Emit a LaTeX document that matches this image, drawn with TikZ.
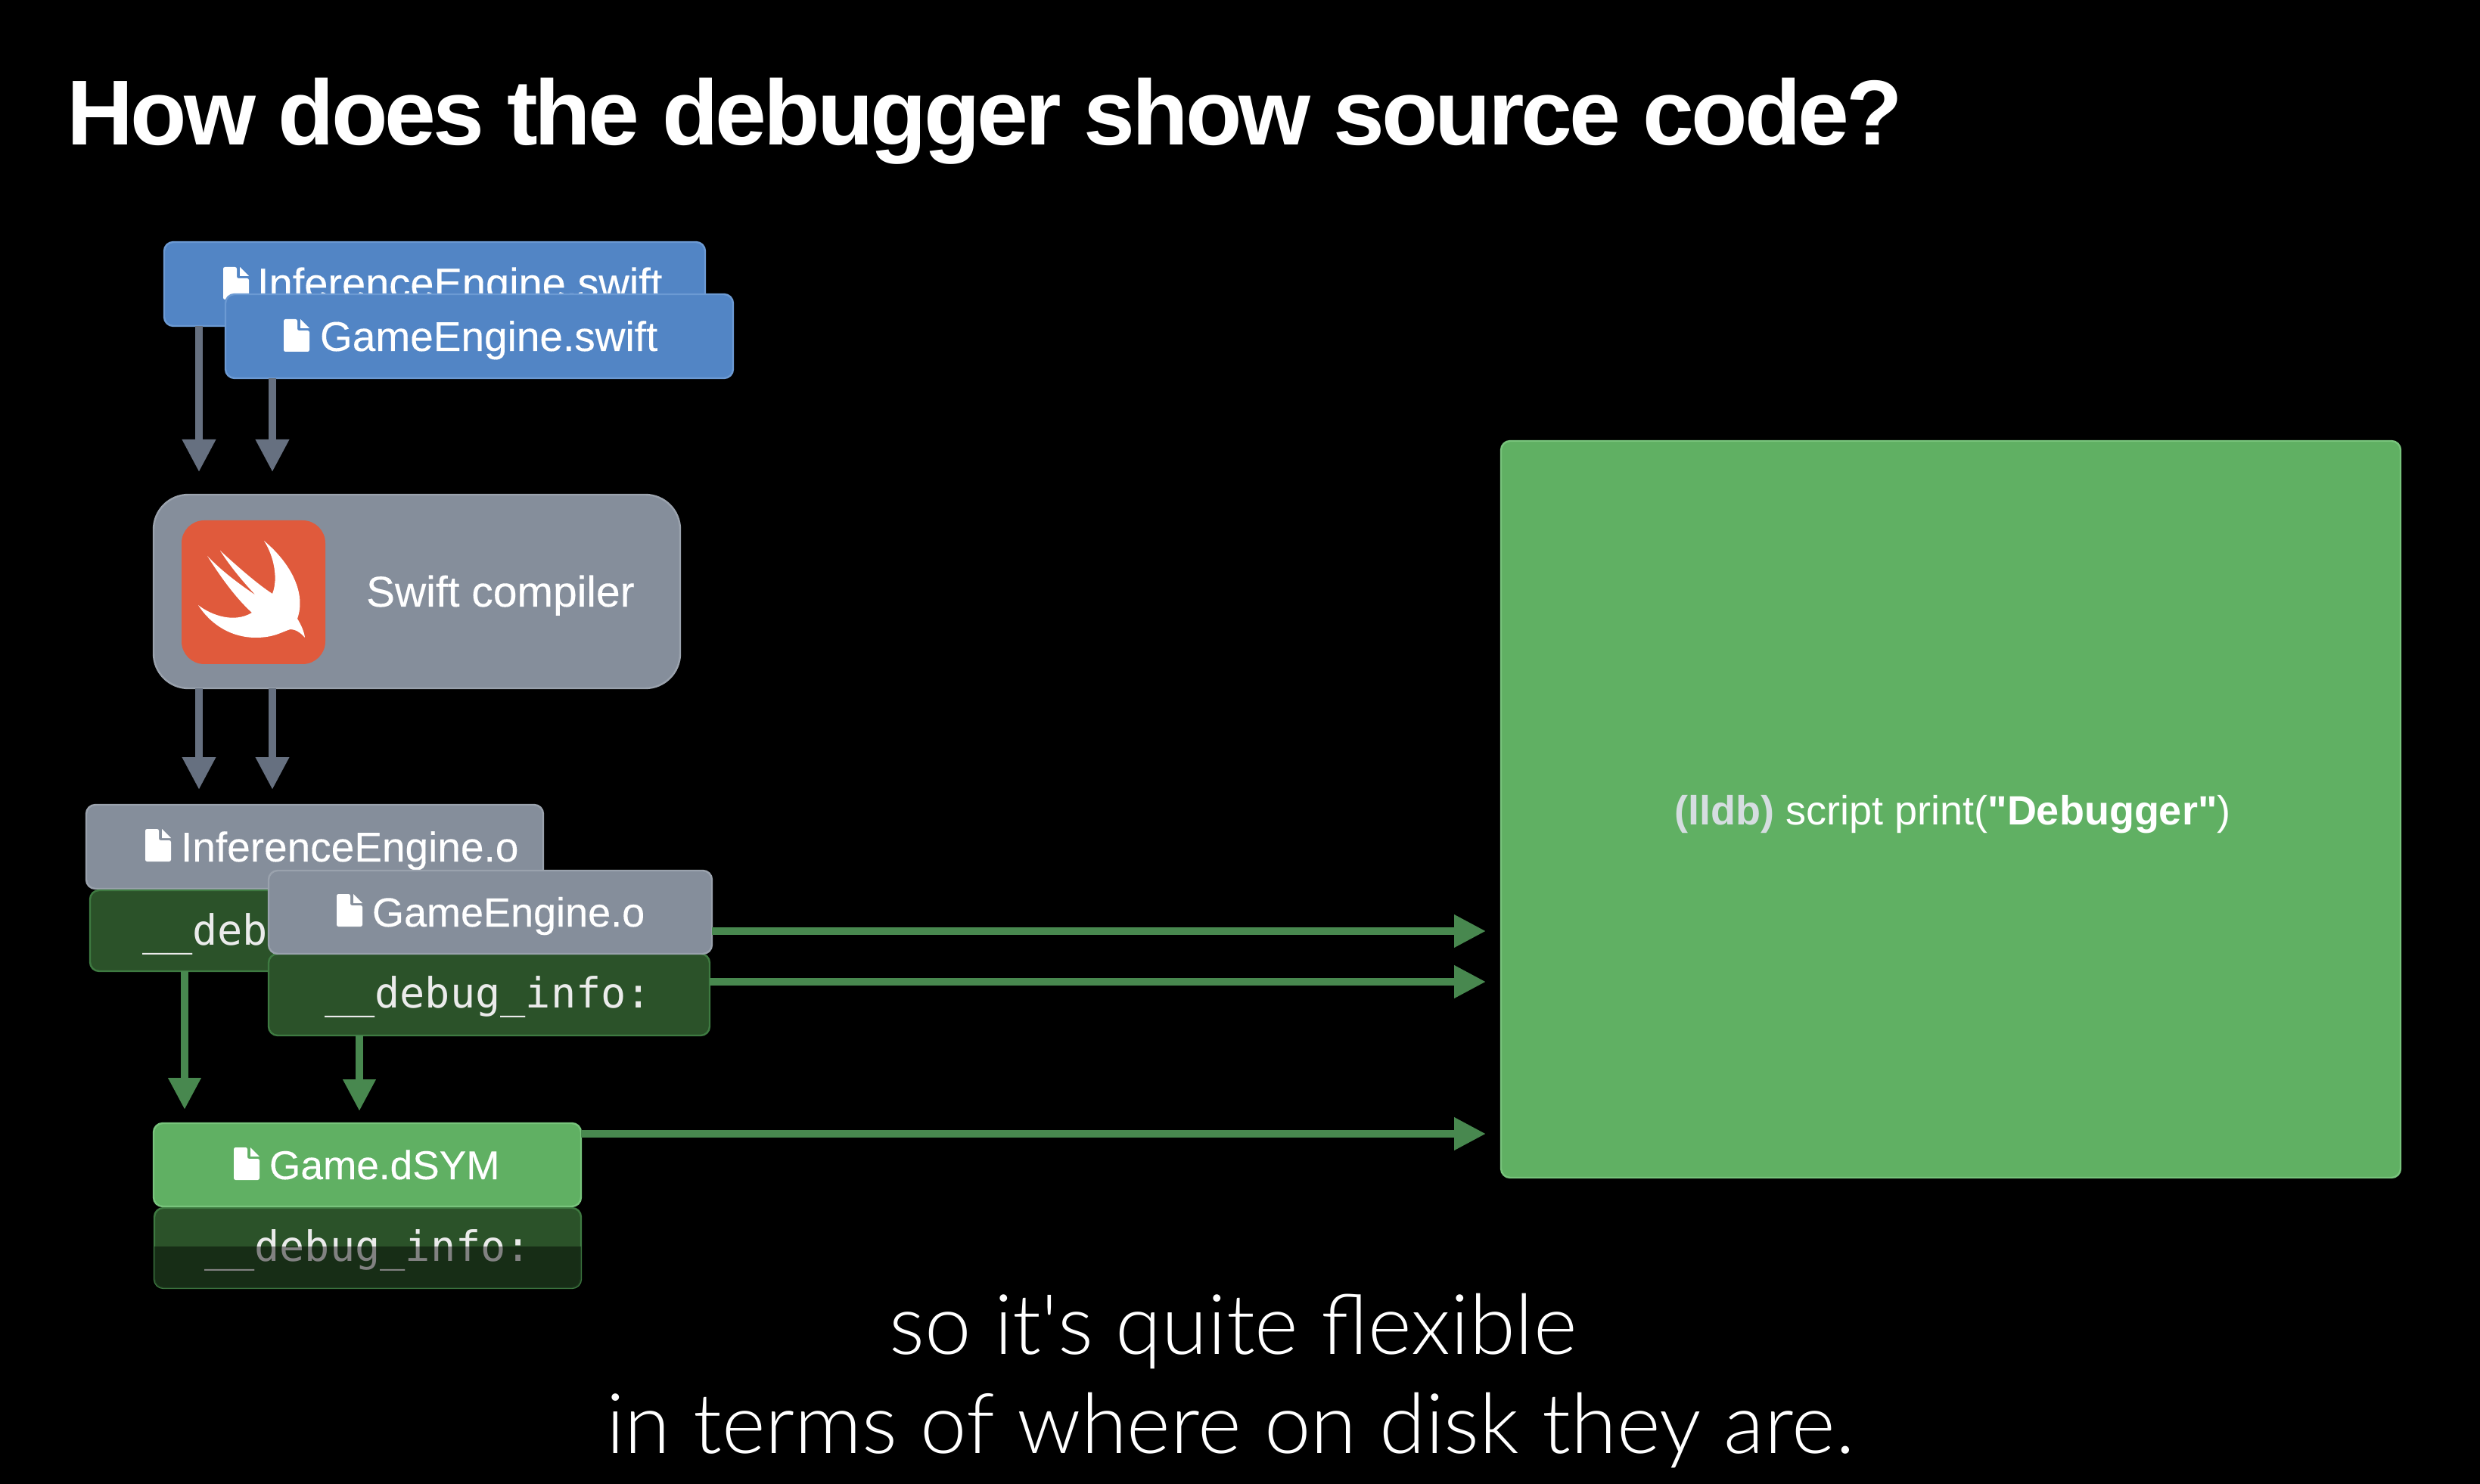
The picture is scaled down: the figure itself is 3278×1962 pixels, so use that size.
\documentclass[tikz,border=0pt]{standalone}
\usepackage{fontspec}
\usetikzlibrary{arrows.meta}
\setmainfont[Ligatures=TeXOff]{Liberation Sans}
\newfontfamily\titlefont[LetterSpace=-3.3]{Liberation Sans Bold}
\newfontfamily\labelfont[FakeBold=0.18]{Liberation Sans}
\newfontfamily\capfont[Ligatures=TeXOff]{Lato Light}
\newfontfamily\monof{DejaVu Sans Mono}
\newdimen\u \u=0.5pt
\definecolor{cblue}{HTML}{5285C5}
\definecolor{cblueb}{HTML}{6C9AD3}
\definecolor{cgray}{HTML}{858E9B}
\definecolor{cgrayb}{HTML}{9AA2AD}
\definecolor{corange}{HTML}{E05A3C}
\definecolor{cgreen}{HTML}{60B063}
\definecolor{cgreenb}{HTML}{78C47C}
\definecolor{cdark}{HTML}{2B5229}
\definecolor{cdarkb}{HTML}{3E7A41}
\definecolor{cagray}{HTML}{667080}
\definecolor{cagreen}{HTML}{48884F}
\definecolor{clldb}{HTML}{D5DDE0}
\tikzset{
  x=0.5pt,y=-0.5pt,
  boxbase/.style={rounded corners=6pt,inner sep=0pt,outer sep=0pt,line width=1.2pt},
  bluebox/.style={boxbase,fill=cblue,draw=cblueb},
  graybox/.style={boxbase,fill=cgray,draw=cgrayb},
  compbox/.style={graybox,rounded corners=23pt},
  greenbox/.style={boxbase,fill=cgreen,draw=cgreenb},
  darkbox/.style={boxbase,fill=cdark,draw=cdarkb},
  label/.style={anchor=base west,inner sep=0pt,outer sep=0pt,text=white,font=\labelfont\fontsize{27.5}{30}\selectfont},
  monolabel/.style={anchor=base west,inner sep=0pt,outer sep=0pt,text=white!92!black,font=\monof\fontsize{27.6}{30}\selectfont},
  caption/.style={anchor=base,inner sep=0pt,text=white,font=\capfont\fontsize{55.2}{60}\selectfont},
  grayarrow/.style={draw=cagray,line width=5pt,-{Triangle[length=21.5pt,width=21pt]}},
  greenarrow/.style={draw=cagreen,line width=5pt,-{Triangle[length=21pt,width=20.5pt]}},
  fileicon/.pic={
    \fill[white,rounded corners=1.2pt] (0,0) -- (18,0) -- (18,15) -- (34,15) -- (34,43) -- (0,43) -- cycle;
    \fill[white] (22,0) -- (34,12) -- (22,12) -- cycle;
  }
}
\newcommand{\boxat}[6]{\node[#2,anchor=north west,minimum width={(#5-#3)*\u},minimum height={(#6-#4)*\u}] (#1) at (#3,#4) {};}
\begin{document}
\begin{tikzpicture}
\useasboundingbox[fill=black] (0,0) rectangle (3278,1962);
% title
\node[anchor=base west,inner sep=0pt,text=white,font=\titlefont\fontsize{61}{66}\selectfont] (title) at (88,192) {How does the debugger show source code?};
% free ends
\coordinate (t1) at (263,624);
\coordinate (t2) at (360,624);
\coordinate (t3) at (263,1044);
\coordinate (t4) at (360,1044);
\coordinate (t5) at (244,1467);
\coordinate (t6) at (475,1469);
\coordinate (t7) at (1964,1231);
\coordinate (t8) at (1964,1298);
\coordinate (t9) at (1964,1499);
% swift sources
\boxat{infs}{bluebox}{217}{320}{932}{431}
\pic at (295,353) {fileicon};
\node[label,font=\labelfont\fontsize{28}{30}\selectfont] (infstxt) at (340,394) {InferenceEngine.swift};
\boxat{games}{bluebox}{298}{389}{969}{500}
\pic at (375,422) {fileicon};
\node[label] (gamestxt) at (423,464) {GameEngine.swift};
% compiler
\boxat{comp}{compbox}{203}{654}{899}{910}
\fill[corange,rounded corners=15pt] (240,688) rectangle (430,878);
\fill[white] (349,715) .. controls (385,745) and (405,785) .. (393,818)
  .. controls (398,826) and (402,835) .. (403,843)
  .. controls (397,836) and (390,832) .. (384,832)
  .. controls (373,835) and (363,843) .. (338,843)
  .. controls (308,843) and (280,828) .. (262,800)
  .. controls (280,814) and (310,824) .. (333,810)
  .. controls (313,792) and (293,765) .. (274,735)
  .. controls (293,755) and (316,772) .. (338,787)
  .. controls (322,770) and (305,750) .. (291,728)
  .. controls (315,750) and (340,772) .. (360,785)
  .. controls (368,765) and (362,735) .. (349,715) -- cycle;
\node[label,font=\labelfont\fontsize{28.5}{31}\selectfont] (comptxt) at (484,802) {Swift compiler};
% arrows top
\draw[grayarrow] (infs.south -| t1) -- (t1);
\draw[grayarrow] (games.south -| t2) -- (t2);
\draw[grayarrow] (comp.south -| t3) -- (t3);
\draw[grayarrow] (comp.south -| t4) -- (t4);
% InferenceEngine.o
\boxat{info}{graybox}{114}{1064}{718}{1175}
\pic at (192,1096) {fileicon};
\node[label] (infotxt) at (239,1139) {InferenceEngine.o};
\boxat{infd}{darkbox}{119}{1177}{718}{1284}
\node[monolabel] (infdtxt) at (188,1249) {\_\_deb};
% GameEngine.o
\boxat{gamed}{darkbox}{355}{1261}{938}{1369}
\boxat{gameo}{graybox}{355}{1151}{941}{1261}
\pic at (445,1182) {fileicon};
\node[label,font=\labelfont\fontsize{27}{30}\selectfont] (gameotxt) at (492,1225) {GameEngine.o};
\node[monolabel] (gamedtxt) at (429,1332) {\_\_debug\_info:};
% dSYM
\boxat{dsymd}{darkbox}{204}{1597}{768}{1703}
\node[monolabel] (dsymdtxt) at (270,1667) {\_\_debug\_info:};
\fill[black,opacity=0.45] (204,1648) -- (768,1648) [rounded corners=6pt] -- (768,1703) -- (204,1703) [sharp corners] -- cycle;
\boxat{dsym}{greenbox}{203}{1485}{768}{1595}
\pic at (309,1517) {fileicon};
\node[label,font=\labelfont\fontsize{26.6}{30}\selectfont] (dsymtxt) at (356,1559) {Game.dSYM};
% big box
\boxat{dbg}{greenbox}{1984}{583}{3173}{1557}
\node[anchor=base west,inner sep=0pt,text=white,font=\fontsize{27}{30}\selectfont] (dbgtxt) at (2213,1090) {\textcolor{clldb}{\bfseries(lldb)} script print(\textbf{"Debugger"})};
% green arrows
\draw[greenarrow] (infd.south -| t5) -- (t5);
\draw[greenarrow] (gamed.south -| t6) -- (t6);
\draw[greenarrow] (gameo.east |- t7) -- (t7);
\draw[greenarrow] (gamed.east |- t8) -- (t8);
\draw[greenarrow] (dsym.east |- t9) -- (t9);
% captions
\node[caption] (cap1) at (1630,1790) {so it's quite flexible};
\node[caption] (cap2) at (1626,1921) {in terms of where on disk they are.};
\end{tikzpicture}
\end{document}
